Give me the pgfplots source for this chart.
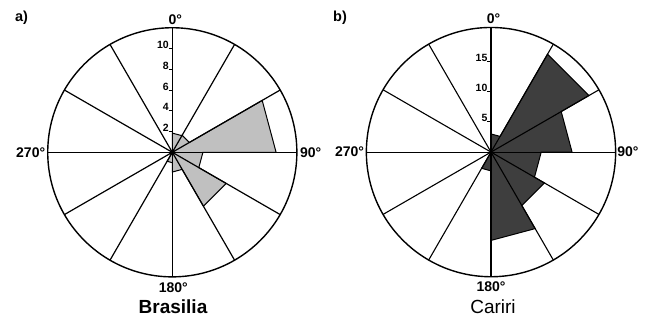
\documentclass[border=0pt]{standalone}
\usepackage{pgfplots}
\pgfplotsset{compat=1.18}
\usepackage{pgfplotstable}
\usepackage{fontspec}
\setmainfont{Liberation Sans}
\definecolor{lightg}{RGB}{192,192,192}
\definecolor{darkg}{RGB}{62,62,62}

% rose outline: compass angle (deg, clockwise from north), radius
\pgfplotstableread{
ang r
0 1.85
30 1.85
30 1.9
60 1.9
60 10.0
90 10.0
90 2.95
120 2.95
120 6.0
150 6.0
150 1.9
180 1.9
180 1.0
210 1.0
210 0
360 0
}\brasilia

\pgfplotstableread{
ang r
0 3.0
30 3.0
30 18.7
60 18.7
60 13.4
90 13.4
90 8.3
120 8.3
120 10.2
150 10.2
150 14.6
180 14.6
180 3.1
210 3.1
210 0
360 0
}\cariri

\newcommand{\ticklab}{\bfseries\fontsize{10.5}{11}\selectfont}
\newcommand{\anglab}{\bfseries\fontsize{14}{15}\selectfont}

\begin{document}
\begin{tikzpicture}
\useasboundingbox (0,0) rectangle (651pt,317pt);
% ---------------- panel a ----------------
\begin{axis}[at={(172.3pt,164.7pt)}, anchor=center,
  x=10.38pt, y=10.38pt, xmin=-12, xmax=12, ymin=-12, ymax=12,
  hide axis, clip=false]
\addplot[fill=lightg, draw=black, line width=1pt]
  table[x expr={\thisrow{r}*sin(\thisrow{ang})}, y expr={\thisrow{r}*cos(\thisrow{ang})}] {\brasilia} -- cycle;
\pgfplotsinvokeforeach{0,30,60,90,120,150}{
  \draw[line width=1.2pt] (axis cs:{-12*sin(#1)},{-12*cos(#1)}) -- (axis cs:{12*sin(#1)},{12*cos(#1)});
}
\draw[line width=1.4pt] (axis cs:0,0) circle[radius=12];
\fill (axis cs:0,0) circle[radius=0.25];
\pgfplotsinvokeforeach{2,4,6,8,10}{
  \draw[line width=0.9pt] ([xshift=-3.6pt]axis cs:0,#1) -- (axis cs:0,#1);
  \node[anchor=base east, inner sep=0pt, font=\ticklab] at ([xshift=-3.4pt]axis cs:0,#1) {#1};
}
\node[anchor=south, inner sep=0pt, font=\anglab] at ([xshift=3pt,yshift=3.4pt]axis cs:0,12) {0°};
\node[anchor=west, inner sep=0pt, font=\anglab] at ([xshift=3pt]axis cs:12,0) {90°};
\node[anchor=east, inner sep=0pt, font=\anglab] at ([xshift=-2.4pt]axis cs:-12,0) {270°};
\node[anchor=north, inner sep=0pt, font=\anglab] at ([xshift=1pt,yshift=-5.4pt]axis cs:0,-12) {180°};
\end{axis}
\node[anchor=base, inner sep=0pt, font=\bfseries\fontsize{19}{20}\selectfont] at (173pt,3.5pt) {Brasilia};
\node[anchor=center, inner sep=0pt, font=\bfseries\fontsize{14.5}{16}\selectfont] at (21.5pt,299.5pt) {a)};
% ---------------- panel b ----------------
\begin{axis}[at={(491pt,164.9pt)}, anchor=center,
  x=6.05pt, y=6.05pt, xmin=-20.6, xmax=20.6, ymin=-20.6, ymax=20.6,
  hide axis, clip=false]
\addplot[fill=darkg, draw=black, line width=1pt]
  table[x expr={\thisrow{r}*sin(\thisrow{ang})}, y expr={\thisrow{r}*cos(\thisrow{ang})}] {\cariri} -- cycle;
\pgfplotsinvokeforeach{0,30,60,90,120,150}{
  \draw[line width=1.1pt] (axis cs:{-20.6*sin(#1)},{-20.6*cos(#1)}) -- (axis cs:{20.6*sin(#1)},{20.6*cos(#1)});
}
\draw[line width=1.4pt] (axis cs:0,0) circle[radius=20.6];
\pgfplotsinvokeforeach{5,10,15}{
  \draw[line width=0.9pt] ([xshift=-3.6pt]axis cs:0,#1) -- (axis cs:0,#1);
  \node[anchor=base east, inner sep=0pt, font=\ticklab] at ([xshift=-3.4pt]axis cs:0,#1) {#1};
}
\node[anchor=south, inner sep=0pt, font=\anglab] at ([xshift=2.5pt,yshift=3.4pt]axis cs:0,20.6) {0°};
\node[anchor=west, inner sep=0pt, font=\anglab] at ([xshift=1.5pt]axis cs:20.6,0) {90°};
\node[anchor=east, inner sep=0pt, font=\anglab] at ([xshift=-2.2pt]axis cs:-20.6,0) {270°};
\node[anchor=north, inner sep=0pt, font=\anglab] at ([xshift=0pt,yshift=-5pt]axis cs:0,-20.6) {180°};
\end{axis}
\node[anchor=base, inner sep=0pt, font=\fontsize{19}{20}\selectfont] at (493pt,3.5pt) {Cariri};
\node[anchor=center, inner sep=0pt, font=\bfseries\fontsize{14.5}{16}\selectfont] at (340pt,299.5pt) {b)};
\end{tikzpicture}
\end{document}
